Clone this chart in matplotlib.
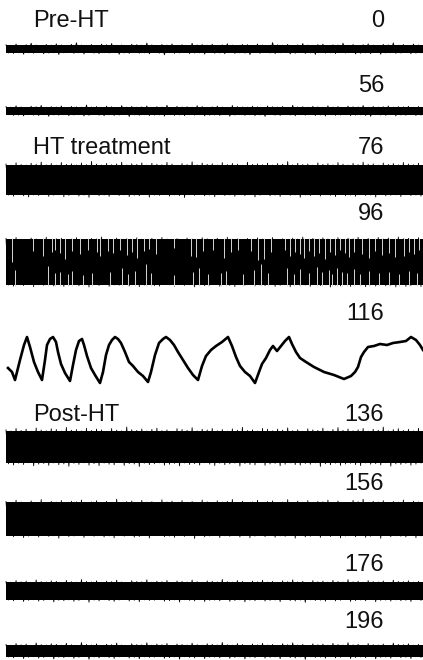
import matplotlib
matplotlib.use("Agg")
import matplotlib.pyplot as plt
import numpy as np

plt.rcParams['font.family'] = ['Liberation Sans', 'DejaVu Sans']

# sweep labels (minutes) and the phase names shown above some sweeps
sweep_minutes = [0, 56, 76, 96, 116, 136, 156, 176, 196]
phase_names = {0: "Pre-HT", 76: "HT treatment", 136: "Post-HT"}

SWEEP_LEN = 21.0  # seconds per sweep

# peak-to-baseline excursions of the noisy sweeps, in uV (upper / lower side)
top_0 = [42, 38, 50, 36, 44, 58, 40, 37, 46, 39, 52, 41, 36, 47, 62, 40, 38, 45, 36, 49,
         43, 55, 38, 41, 37, 48, 44, 39, 60, 42, 37, 46, 40, 51, 38, 43, 36, 57, 41, 45,
         39, 48, 37, 42, 53, 40, 36, 46, 44, 38, 50, 41, 37, 64, 43, 39, 47, 36, 42, 55,
         40, 38, 45, 49, 37, 43, 41, 58, 39, 46, 36, 44, 52, 40, 38, 47, 42, 61, 39, 45,
         37, 50, 41, 44]
bot_0 = [40, 45, 37, 52, 39, 43, 36, 48, 41, 38, 55, 40, 37, 44, 39, 50, 36, 42, 47, 38,
         41, 36, 53, 40, 45, 37, 43, 39, 49, 36, 42, 58, 38, 44, 40, 37, 46, 41, 39, 51,
         36, 43, 40, 48, 37, 45, 39, 42, 56, 38, 44, 37, 41, 47, 39, 36, 50, 43, 38, 45,
         40, 54, 37, 42, 39, 46, 38, 41, 36, 49, 43, 39, 47, 37, 52, 40, 38, 44, 41, 36,
         48, 42, 39, 45]
top_56 = [45, 39, 52, 41, 37, 48, 43, 56, 38, 44, 40, 50, 37, 46, 42, 39, 60, 41, 45, 38,
          49, 43, 37, 54, 40, 46, 39, 42, 51, 38, 44, 40, 58, 37, 47, 41, 43, 39, 53, 45,
          38, 42, 49, 40, 37, 55, 44, 41, 39, 48, 42, 36, 50, 43, 40, 46, 38, 57, 41, 44,
          39, 47, 42, 38, 52, 40, 45, 37, 49, 43, 41, 55, 38, 46, 40, 43, 50, 39, 44, 42,
          47, 38, 45, 41]
bot_56 = [38, 44, 41, 49, 37, 42, 46, 39, 53, 40, 43, 37, 47, 41, 38, 50, 44, 36, 42, 48,
          39, 45, 41, 37, 55, 40, 43, 38, 46, 42, 39, 51, 37, 44, 40, 47, 38, 42, 36, 49,
          43, 40, 45, 38, 52, 41, 37, 44, 39, 47, 40, 54, 38, 42, 45, 37, 41, 48, 39, 43,
          36, 46, 40, 50, 38, 44, 41, 37, 47, 42, 39, 45, 53, 38, 41, 44, 37, 49, 40, 43,
          38, 46, 41, 39]
top_76 = [160, 148, 172, 155, 150, 168, 158, 180, 152, 165, 149, 175, 157, 162, 151, 170, 154, 185, 159, 150,
          166, 153, 161, 178, 150, 163, 156, 171, 149, 167, 158, 152, 176, 160, 148, 164, 155, 182, 151, 169,
          157, 162, 150, 173, 154, 166, 159, 149, 177, 156, 161, 153, 168, 150, 164, 158, 184, 152, 167, 155,
          160, 149, 171, 157, 163, 151, 174, 159, 150, 166, 154, 179, 158, 162, 149, 170, 156, 165, 152, 175,
          160, 153, 168, 157]
bot_76 = [150, 162, 146, 158, 170, 149, 155, 145, 164, 152, 148, 168, 154, 146, 160, 151, 173, 147, 157, 150,
          163, 145, 155, 149, 166, 152, 158, 146, 171, 150, 154, 147, 161, 149, 156, 175, 148, 153, 145, 159,
          151, 167, 147, 155, 150, 162, 146, 157, 148, 169, 152, 145, 158, 151, 164, 147, 154, 149, 172, 150,
          156, 146, 160, 148, 153, 166, 145, 157, 151, 163, 147, 155, 150, 170, 146, 158, 152, 149, 165, 148,
          156, 151, 161, 147]
top_96 = [235, 222, 245, 228, 218, 240, 230, 225, 248, 220, 233, 238, 221, 229, 244, 226, 219, 236, 231, 250,
          224, 217, 239, 227, 232, 220, 242, 228, 223, 237, 219, 246, 230, 225, 234, 221, 240, 229, 218, 243,
          232, 226, 238, 222, 247, 228, 231, 219, 236, 224, 241, 230, 220, 245, 227, 233, 222, 239, 229, 249,
          225, 236, 221, 242, 230, 226, 244, 223, 238, 231, 248, 227, 235, 222, 246, 229, 240, 225, 250, 232,
          237, 226, 243, 230]
bot_96 = [230, 242, 225, 236, 221, 248, 228, 233, 219, 240, 226, 245, 231, 222, 238, 227, 250, 224, 235, 220,
          243, 229, 232, 218, 239, 226, 247, 230, 223, 236, 241, 225, 229, 244, 221, 234, 228, 249, 222, 237,
          231, 226, 242, 220, 235, 246, 227, 232, 224, 240, 229, 237, 221, 244, 233, 226, 248, 225, 238, 230,
          243, 222, 236, 228, 250, 231, 239, 224, 245, 227, 234, 247, 229, 241, 223, 238, 232, 249, 226, 244,
          235, 228, 246, 231]
top_136 = [172, 160, 185, 166, 178, 158, 190, 170, 163, 182, 175, 159, 196, 168, 174, 161, 187, 165, 179, 171,
           157, 184, 169, 162, 200, 173, 166, 180, 160, 176, 188, 164, 171, 158, 183, 175, 167, 193, 161, 178,
           170, 185, 163, 174, 159, 181, 168, 197, 165, 172, 160, 186, 177, 162, 179, 169, 191, 164, 173, 158,
           182, 171, 166, 188, 160, 175, 194, 167, 180, 163, 172, 185, 159, 177, 168, 199, 162, 174, 183, 166,
           178, 161, 187, 170]
bot_136 = [168, 180, 162, 175, 158, 188, 171, 165, 183, 160, 177, 169, 192, 163, 174, 159, 181, 167, 186, 161,
           172, 178, 157, 184, 166, 170, 195, 162, 176, 168, 159, 182, 173, 164, 189, 160, 175, 167, 180, 158,
           171, 185, 163, 177, 169, 161, 190, 166, 174, 179, 158, 183, 170, 164, 187, 172, 160, 176, 181, 165,
           173, 159, 194, 168, 178, 162, 184, 170, 163, 176, 186, 160, 172, 167, 180, 158, 191, 169, 174, 164,
           182, 171, 161, 177]
top_156 = [175, 163, 188, 170, 158, 181, 167, 194, 161, 176, 169, 185, 160, 178, 172, 190, 164, 171, 183, 159,
           177, 166, 198, 162, 174, 180, 157, 186, 168, 173, 163, 192, 170, 179, 160, 184, 167, 175, 161, 189,
           172, 158, 182, 169, 176, 195, 163, 178, 166, 171, 187, 160, 174, 181, 165, 170, 193, 162, 179, 168,
           184, 159, 176, 172, 188, 164, 180, 167, 161, 186, 173, 197, 165, 177, 170, 183, 160, 175, 169, 190,
           163, 178, 171, 185]
bot_156 = [165, 178, 160, 186, 171, 163, 180, 158, 174, 168, 192, 162, 176, 170, 159, 184, 166, 173, 161, 179,
           169, 188, 164, 172, 157, 181, 175, 163, 190, 167, 160, 177, 171, 183, 158, 174, 166, 195, 162, 178,
           170, 161, 185, 168, 173, 159, 180, 164, 187, 171, 163, 176, 160, 182, 169, 174, 158, 191, 166, 179,
           172, 162, 184, 167, 175, 160, 189, 170, 164, 178, 161, 183, 173, 166, 193, 159, 177, 168, 172, 180,
           163, 186, 169, 175]
top_176 = [95, 88, 104, 92, 99, 86, 110, 94, 90, 101, 97, 87, 106, 93, 89, 114, 96, 91, 102, 88,
           99, 94, 108, 90, 86, 103, 95, 92, 112, 89, 98, 93, 105, 87, 100, 96, 90, 109, 94, 88,
           101, 97, 91, 115, 93, 89, 104, 95, 87, 99, 92, 107, 90, 96, 88, 102, 94, 111, 91, 97,
           86, 103, 93, 99, 89, 106, 95, 90, 113, 92, 98, 88, 104, 94, 91, 100, 87, 108, 96, 93,
           102, 89, 97, 94]
bot_176 = [90, 98, 86, 105, 93, 88, 101, 95, 87, 109, 92, 97, 89, 103, 94, 86, 112, 91, 99, 88,
           96, 104, 90, 87, 100, 93, 107, 89, 95, 92, 86, 102, 97, 90, 110, 88, 94, 99, 87, 105,
           93, 91, 98, 86, 103, 95, 89, 108, 92, 97, 88, 101, 94, 90, 106, 87, 96, 100, 91, 113,
           89, 95, 92, 102, 88, 99, 93, 87, 104, 96, 90, 98, 86, 107, 94, 91, 101, 89, 97, 93,
           105, 88, 95, 92]
top_196 = [65, 58, 74, 62, 69, 57, 80, 64, 60, 72, 67, 59, 77, 63, 58, 84, 66, 61, 71, 57,
           68, 64, 79, 60, 56, 73, 65, 62, 82, 59, 70, 63, 75, 57, 69, 66, 60, 78, 64, 58,
           72, 67, 61, 85, 63, 59, 74, 65, 57, 70, 62, 77, 60, 66, 58, 73, 64, 81, 61, 67,
           56, 72, 63, 69, 59, 76, 65, 60, 83, 62, 68, 58, 74, 64, 61, 70, 57, 78, 66, 63,
           72, 59, 67, 64]
bot_196 = [60, 68, 56, 75, 63, 58, 71, 65, 57, 79, 62, 67, 59, 73, 64, 56, 82, 61, 69, 58,
           66, 74, 60, 57, 70, 63, 77, 59, 65, 62, 56, 72, 67, 60, 80, 58, 64, 69, 57, 75,
           63, 61, 68, 56, 73, 65, 59, 78, 62, 67, 58, 71, 64, 60, 76, 57, 66, 70, 61, 83,
           59, 65, 62, 72, 58, 69, 63, 57, 74, 66, 60, 68, 56, 77, 64, 61, 71, 59, 67, 63,
           75, 58, 65, 62]

# dense part of each noisy sweep (uV half-width)
core_uv = {0: 41, 56: 42, 76: 152, 96: 226, 136: 164, 156: 166, 176: 92, 196: 61}
noise = {0: (top_0, bot_0), 56: (top_56, bot_56), 76: (top_76, bot_76), 96: (top_96, bot_96),
         136: (top_136, bot_136), 156: (top_156, bot_156), 176: (top_176, bot_176),
         196: (top_196, bot_196)}

# 96 min sweep: gaps between bursts (time s, level uV where the gap ends)
gap_top_t = [0.30, 1.35, 1.85, 2.30, 2.45, 2.70, 2.95, 3.30, 3.70, 4.10,
             4.55, 4.70, 5.10, 5.35, 5.70, 6.05, 6.30, 6.55, 6.90, 7.15,
             7.50, 8.40, 9.25, 9.50, 9.85, 10.35, 10.90, 11.25, 11.60, 12.25,
             12.60, 12.90, 13.25, 13.95, 14.20, 14.45, 14.70, 14.90, 15.15, 15.40,
             15.65, 15.95, 16.20, 16.45, 16.70, 16.95, 17.15, 17.40, 17.80, 18.15,
             18.45, 18.80, 19.15, 19.45, 19.90, 20.15, 20.40, 20.65]
gap_top_end = [0, 110, 60, 100, 120, 90, 30, 110, 80, 120,
               100, 60, 110, 90, 120, 70, 100, 40, 110, 130,
               80, 140, 60, 50, 110, 120, 40, 100, 120, 110,
               20, 30, 100, 120, 60, 100, 80, 40, 110, 60,
               90, 30, 100, 70, 120, 90, 50, 100, 80, 40,
               110, 70, 90, 50, 60, 100, 80, 120]
gap_bot_t = [0.45, 2.10, 2.45, 2.70, 3.10, 3.30, 3.85, 4.30, 5.20, 5.80,
             6.10, 6.45, 7.00, 7.25, 8.40, 9.35, 9.65, 10.10, 10.75, 11.00,
             11.85, 12.40, 12.75, 13.10, 14.05, 14.40, 14.70, 15.15, 15.55, 15.80,
             16.15, 16.30, 16.55, 16.80, 17.05, 17.40, 17.70, 18.15, 18.65, 19.15,
             19.65, 20.15, 20.55]
gap_bot_end = [-80, -40, -110, -100, -120, -90, -130, -110, -100, -60,
               -120, -90, -20, -110, -130, -100, -60, -120, -110, -90,
               -120, -80, -20, -110, -60, -120, -70, -110, -50, -100,
               -80, -120, -60, -100, -110, -70, -120, -90, -110, -100,
               -120, -90, -110]

# 116 min sweep: slow oscillation (time s, uV)
wave_t = [0.10, 0.30, 0.45, 0.70, 0.90, 1.05, 1.20, 1.40, 1.60, 1.80, 1.95, 2.05, 2.20, 2.35, 2.50,
          2.60, 2.75, 2.95, 3.20, 3.35, 3.50, 3.65, 3.80, 3.90, 4.05, 4.25, 4.45, 4.70, 4.85, 5.00,
          5.15, 5.30, 5.45, 5.60, 5.75, 5.95, 6.15, 6.35, 6.60, 6.85, 7.10, 7.25, 7.45, 7.65, 7.85,
          8.00, 8.20, 8.40, 8.60, 8.85, 9.10, 9.35, 9.60, 9.80, 10.00, 10.25, 10.50, 10.80, 11.10, 11.30,
          11.50, 11.70, 11.95, 12.20, 12.45, 12.65, 12.80, 13.00, 13.20, 13.35, 13.55, 13.75, 13.95, 14.15, 14.30,
          14.50, 14.70, 15.00, 15.40, 15.90, 16.40, 16.90, 17.25, 17.45, 17.60, 17.75, 17.90, 18.10, 18.40, 18.70,
          19.05, 19.35, 19.70, 20.00, 20.25, 20.50, 20.70, 20.85]
wave_uv = [-80, -120, -200, 0, 150, 230, 130, -20, -120, -200, 0, 150, 210, 230, 180,
           80, -40, -130, -210, -50, 100, 190, 210, 150, 40, -80, -150, -230, -120, 50,
           150, 200, 230, 210, 170, 80, -20, -60, -120, -160, -220, -120, 50, 170, 210,
           230, 200, 150, 80, 0, -80, -150, -200, -60, 40, 100, 140, 180, 230, 140,
           30, -60, -120, -160, -230, -120, -40, 20, 100, 140, 90, 140, 190, 230, 160,
           80, 20, -20, -70, -120, -150, -190, -160, -120, -70, 30, 80, 130, 140, 160,
           150, 170, 180, 190, 230, 200, 150, 100]

# layout (pixel rows of the 423x660 figure)
W, H = 423, 660
row_centre_px = [49, 111, 180, 262, 360, 447, 519, 591, 651]
label_base_px = [27, 92, 154, 220, 320, 421, 490, 571, 628]
UV_PER_PX = 10.0

fig = plt.figure(figsize=(W / 100, H / 100), dpi=100)
ax = fig.add_axes([0, 0, 1, 1])
ax.set_xlim(-6 / 20, (W - 6) / 20)
ax.set_ylim(0, H * UV_PER_PX)
ax.axis('off')

for m, cpx, lpx in zip(sweep_minutes, row_centre_px, label_base_px):
    base = (H - cpx) * UV_PER_PX
    if m in noise:
        top, bot = noise[m]
        n = min(len(top), len(bot))
        t = np.linspace(0, SWEEP_LEN, 2 * n)
        y = np.empty(2 * n)
        y[0::2] = top[:n]
        y[1::2] = -np.asarray(bot[:n], float)
        core = core_uv[m]
        ax.fill_between([0, SWEEP_LEN], base - core, base + core, color='k', lw=0)
        ax.plot(t, base + y, color='k', lw=0.6)
        if m == 96:
            ax.vlines(gap_top_t, base + core + 10, base + np.asarray(gap_top_end),
                      color='#d6d6d6', lw=0.7)
            ax.vlines(gap_bot_t, base - core - 10, base + np.asarray(gap_bot_end),
                      color='#d6d6d6', lw=0.7)
    else:
        ax.plot(wave_t, base + np.asarray(wave_uv), color='k', lw=1.9)

    fy = 1 - lpx / H
    fig.text(384 / W, fy, str(m), ha='right', va='baseline', fontsize=17, color='#111111')
    if m in phase_names:
        fig.text(33 / W, fy, phase_names[m], ha='left', va='baseline', fontsize=17,
                 color='#111111')

fig.savefig('out.png', dpi=100)
